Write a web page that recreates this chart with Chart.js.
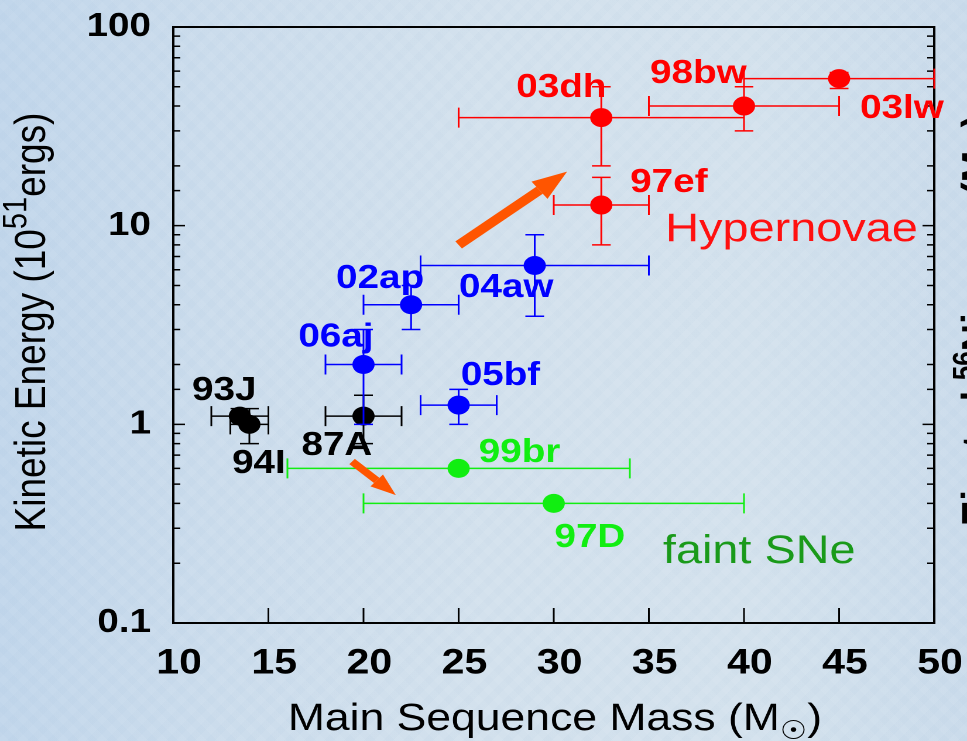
<!DOCTYPE html>
<html>
<head>
<meta charset="utf-8">
<title>Kinetic energy vs main sequence mass</title>
<script src="https://cdn.jsdelivr.net/npm/chart.js@4.4.1/dist/chart.umd.min.js"></script>
<style>
  html, body { margin: 0; padding: 0; overflow: hidden; }
  body {
    width: 967px; height: 741px;
    background:
      repeating-linear-gradient(45deg, rgba(255,255,255,0.05) 0 7px, rgba(255,255,255,0) 7px 14px),
      repeating-linear-gradient(-45deg, rgba(150,180,210,0.05) 0 7px, rgba(255,255,255,0) 7px 14px),
      linear-gradient(90deg, #c1d6eb 0%, #cbdcec 22%, #d3e1ed 50%, #d4e2ed 78%, #cadbeb 100%);
  }
  canvas { display: block; }
</style>
</head>
<body>
<!-- the figure is drawn 826 wide and stretched to 967, like the original picture -->
<canvas id="snChart" width="826" height="741" style="width:967px;height:741px"></canvas>
<script>
const FONT = '"Liberation Sans", Arial, "DejaVu Sans", sans-serif';

// axis ticks
const xTickValues = [10, 15, 20, 25, 30, 35, 40, 45, 50];
const yTickValues = [0.1, 1, 10, 100];
const yTickLabels = ['0.1', '1', '10', '100'];

// hypernovae (red)
const hnNames = ['98bw', '97ef', '03dh', '03lw'];
const hnMass = [40, 32.5, 32.5, 45];
const hnMassLo = [35, 30, 25, 40];
const hnMassHi = [45, 35, 40, 50];
const hnEnergy = [40, 12.7, 35, 55];
const hnEnergyLo = [30, 8, 20, 49];
const hnEnergyHi = [50, 17.5, 50, 59];

// SNe Ib/c (blue)
const ibcNames = ['02ap', '04aw', '06aj', '05bf'];
const ibcMass = [22.5, 29, 20, 25];
const ibcMassLo = [20, 23, 18, 23];
const ibcMassHi = [25, 35, 22, 27];
const ibcEnergy = [4, 6.3, 2, 1.25];
const ibcEnergyLo = [3, 3.5, 1, 1];
const ibcEnergyHi = [5, 9, 3, 1.5];

// normal SNe (black)
const snNames = ['93J', '94I', '87A'];
const snMass = [13.5, 14, 20];
const snMassLo = [12, 13, 18];
const snMassHi = [15, 15, 22];
const snEnergy = [1.1, 1.0, 1.1];
const snEnergyLo = [1.0, 0.8, 0.8];
const snEnergyHi = [1.2, 1.2, 1.4];

// faint SNe (green)
const faintNames = ['99br', '97D'];
const faintMass = [25, 30];
const faintMassLo = [16, 20];
const faintMassHi = [34, 40];
const faintEnergy = [0.6, 0.4];

const RED = '#ff0000', BLUE = '#0000ff', BLACK = '#000000', GREEN = '#11ee11';

// drawn last-index first, so blue sits over black
const groups = [
  { color: GREEN, mass: faintMass, lo: faintMassLo, hi: faintMassHi, e: faintEnergy, eLo: faintEnergy, eHi: faintEnergy },
  { color: RED, mass: hnMass, lo: hnMassLo, hi: hnMassHi, e: hnEnergy, eLo: hnEnergyLo, eHi: hnEnergyHi },
  { color: BLUE, mass: ibcMass, lo: ibcMassLo, hi: ibcMassHi, e: ibcEnergy, eLo: ibcEnergyLo, eHi: ibcEnergyHi },
  { color: BLACK, mass: snMass, lo: snMassLo, hi: snMassHi, e: snEnergy, eLo: snEnergyLo, eHi: snEnergyHi }
];

// text notes, anchored in data units (centre x, baseline y)
const notes = [
  { text: hnNames[2], x: 30.4, y: 44.4, color: RED },
  { text: hnNames[0], x: 37.6, y: 52.2, color: RED },
  { text: hnNames[3], x: 48.3, y: 34.8, color: RED },
  { text: hnNames[1], x: 36.05, y: 14.8, color: RED },
  { text: ibcNames[0], x: 20.87, y: 4.85, color: BLUE },
  { text: ibcNames[1], x: 27.5, y: 4.37, color: BLUE },
  { text: ibcNames[2], x: 18.55, y: 2.46, color: BLUE },
  { text: ibcNames[3], x: 27.2, y: 1.58, color: BLUE },
  { text: snNames[0], x: 12.68, y: 1.325, color: BLACK },
  { text: snNames[1], x: 14.5, y: 0.569, color: BLACK },
  { text: snNames[2], x: 18.6, y: 0.701, color: BLACK },
  { text: faintNames[0], x: 28.2, y: 0.646, color: GREEN },
  { text: faintNames[1], x: 31.9, y: 0.241, color: GREEN },
  { text: 'Hypernovae', x: 42.5, y: 8.37, color: '#ff1010', plain: true, size: 40 },
  { text: 'faint SNe', x: 40.8, y: 0.2, color: '#1a9a1a', plain: true, size: 40 }
];

const arrows = [
  { from: [25.0, 8.0], to: [30.7, 18.7], shaft: 9, headLen: 30, headHalf: 11 },
  { from: [19.4, 0.65], to: [21.7, 0.44], shaft: 7, headLen: 22, headHalf: 8 }
];

function isDecade(v) {
  const l = Math.log10(v);
  return Math.abs(l - Math.round(l)) < 1e-6;
}

function drawParts(ctx, parts, x, y, angle, align) {
  ctx.save();
  ctx.translate(x, y);
  if (angle) ctx.rotate(angle);
  let total = 0;
  parts.forEach(p => { ctx.font = p.font; p.w = ctx.measureText(p.t).width; total += p.w; });
  let cx = align === 'center' ? -total / 2 : 0;
  ctx.textAlign = 'left';
  ctx.textBaseline = 'alphabetic';
  parts.forEach(p => {
    ctx.font = p.font;
    ctx.fillStyle = p.color || '#000';
    ctx.fillText(p.t, cx, p.dy || 0);
    cx += p.w;
  });
  ctx.restore();
}

// keep the plot box where the layout padding puts it
function noScalePadding(s) {
  s.paddingTop = 0; s.paddingBottom = 0; s.paddingLeft = 0; s.paddingRight = 0;
}

const errorBars = {
  id: 'errorBars',
  beforeDatasetDraw(chart, args) {
    const g = groups[args.index];
    const xs = chart.scales.x, ys = chart.scales.y, ctx = chart.ctx;
    const capV = 10, capH = 8;
    ctx.save();
    ctx.strokeStyle = g.color;
    ctx.lineWidth = 1.5;
    ctx.beginPath();
    g.mass.forEach((m, i) => {
      const px = xs.getPixelForValue(m);
      const py = ys.getPixelForValue(g.e[i]);
      const x1 = xs.getPixelForValue(g.lo[i]);
      const x2 = xs.getPixelForValue(g.hi[i]);
      ctx.moveTo(x1, py); ctx.lineTo(x2, py);
      ctx.moveTo(x1, py - capV); ctx.lineTo(x1, py + capV);
      ctx.moveTo(x2, py - capV); ctx.lineTo(x2, py + capV);
      if (g.eLo[i] !== g.eHi[i]) {
        const y1 = ys.getPixelForValue(g.eLo[i]);
        const y2 = ys.getPixelForValue(g.eHi[i]);
        ctx.moveTo(px, y1); ctx.lineTo(px, y2);
        ctx.moveTo(px - capH, y1); ctx.lineTo(px + capH, y1);
        ctx.moveTo(px - capH, y2); ctx.lineTo(px + capH, y2);
      }
    });
    ctx.stroke();
    ctx.restore();
  }
};

const frame = {
  id: 'frame',
  beforeDatasetsDraw(chart) {
    const { ctx, chartArea: a } = chart;
    const xs = chart.scales.x, ys = chart.scales.y;
    ctx.save();
    ctx.strokeStyle = '#000';
    ctx.lineWidth = 2;
    ctx.strokeRect(a.left, a.top, a.right - a.left, a.bottom - a.top);
    ctx.lineWidth = 1.5;
    ctx.beginPath();
    // inward ticks
    xs.ticks.forEach(t => {
      const px = xs.getPixelForValue(t.value);
      ctx.moveTo(px, a.bottom); ctx.lineTo(px, a.bottom - 15);
    });
    ys.ticks.forEach(t => {
      const py = ys.getPixelForValue(t.value);
      const len = isDecade(t.value) ? 10 : 6;
      ctx.moveTo(a.left, py); ctx.lineTo(a.left + len, py);
      ctx.moveTo(a.right, py); ctx.lineTo(a.right - len, py);
    });
    ctx.stroke();
    ctx.restore();
  },
  afterDatasetsDraw(chart) {
    const { ctx } = chart;
    const xs = chart.scales.x, ys = chart.scales.y;
    ctx.save();
    // arrows
    ctx.fillStyle = '#ff5500';
    ctx.strokeStyle = '#ff5500';
    arrows.forEach(ar => {
      const x1 = xs.getPixelForValue(ar.from[0]), y1 = ys.getPixelForValue(ar.from[1]);
      const x2 = xs.getPixelForValue(ar.to[0]), y2 = ys.getPixelForValue(ar.to[1]);
      const ang = Math.atan2(y2 - y1, x2 - x1);
      const bx = x2 - ar.headLen * Math.cos(ang), by = y2 - ar.headLen * Math.sin(ang);
      ctx.lineWidth = ar.shaft;
      ctx.beginPath(); ctx.moveTo(x1, y1); ctx.lineTo(bx, by); ctx.stroke();
      ctx.beginPath();
      ctx.moveTo(x2, y2);
      ctx.lineTo(bx + ar.headHalf * Math.sin(ang), by - ar.headHalf * Math.cos(ang));
      ctx.lineTo(bx - ar.headHalf * Math.sin(ang), by + ar.headHalf * Math.cos(ang));
      ctx.closePath();
      ctx.fill();
    });
    // labels
    ctx.textAlign = 'center';
    ctx.textBaseline = 'alphabetic';
    notes.forEach(n => {
      ctx.font = n.plain ? `${n.size}px ${FONT}` : `bold 33px ${FONT}`;
      ctx.fillStyle = n.color;
      ctx.fillText(n.text, xs.getPixelForValue(n.x), ys.getPixelForValue(n.y));
    });
    ctx.restore();
  },
  afterDraw(chart) {
    const { ctx, chartArea: a } = chart;
    const big = `37px ${FONT}`;
    // y title
    drawParts(ctx, [
      { t: 'Kinetic Energy (10', font: big },
      { t: '51', font: `29px ${FONT}`, dy: -16 },
      { t: 'ergs)', font: big }
    ], 38.5, (a.top + a.bottom) / 2 - 3, -Math.PI / 2, 'center');
    // x title
    drawParts(ctx, [
      { t: 'Main Sequence Mass (M', font: `38px ${FONT}` },
      { t: '\u2609', font: `26px ${FONT}`, dy: 9 },
      { t: ')', font: `38px ${FONT}` }
    ], (a.left + a.right) / 2 + 1, 730, 0, 'center');
    // right-hand title, mostly outside the picture
    const bold = `bold 38px ${FONT}`;
    drawParts(ctx, [
      { t: 'Ejected ', font: bold },
      { t: '56', font: `bold 26px ${FONT}`, dy: -16 },
      { t: 'Ni mass (M', font: bold },
      { t: '\u2609', font: `bold 26px ${FONT}`, dy: 9 },
      { t: ')', font: bold }
    ], 848, 526, -Math.PI / 2, 'left');
  }
};

new Chart(document.getElementById('snChart'), {
  type: 'scatter',
  data: {
    datasets: groups.map(g => ({
      data: g.mass.map((m, i) => ({ x: m, y: g.e[i] })),
      backgroundColor: g.color,
      borderColor: g.color,
      borderWidth: 0,
      pointRadius: 9.5,
      pointHoverRadius: 9.5
    }))
  },
  options: {
    responsive: false,
    devicePixelRatio: 2,
    animation: false,
    events: [],
    layout: { padding: { top: 27, right: 28, left: 0, bottom: 0 } },
    plugins: { legend: { display: false }, tooltip: { enabled: false } },
    scales: {
      x: {
        type: 'linear',
        min: xTickValues[0],
        max: xTickValues[xTickValues.length - 1],
        grid: { display: false },
        border: { display: false },
        afterFit: s => { s.height = 118; noScalePadding(s); },
        ticks: {
          stepSize: 5,
          autoSkip: false,
          maxRotation: 0,
          padding: 12,
          labelOffset: 5,
          color: '#000',
          font: { family: FONT, size: 35, weight: 'bold' },
          callback: v => String(v)
        }
      },
      y: {
        type: 'logarithmic',
        min: yTickValues[0],
        max: yTickValues[yTickValues.length - 1],
        grid: { display: false },
        border: { display: false },
        afterFit: s => { s.width = 148; noScalePadding(s); },
        ticks: {
          autoSkip: false,
          padding: 11,
          color: '#000',
          font: { family: FONT, size: 33, weight: 'bold' },
          callback: v => {
            if (!isDecade(v)) return '';
            const i = yTickValues.findIndex(t => Math.abs(Math.log10(t) - Math.log10(v)) < 1e-6);
            return i >= 0 ? yTickLabels[i] : '';
          }
        }
      }
    }
  },
  plugins: [errorBars, frame]
});
</script>
</body>
</html>
